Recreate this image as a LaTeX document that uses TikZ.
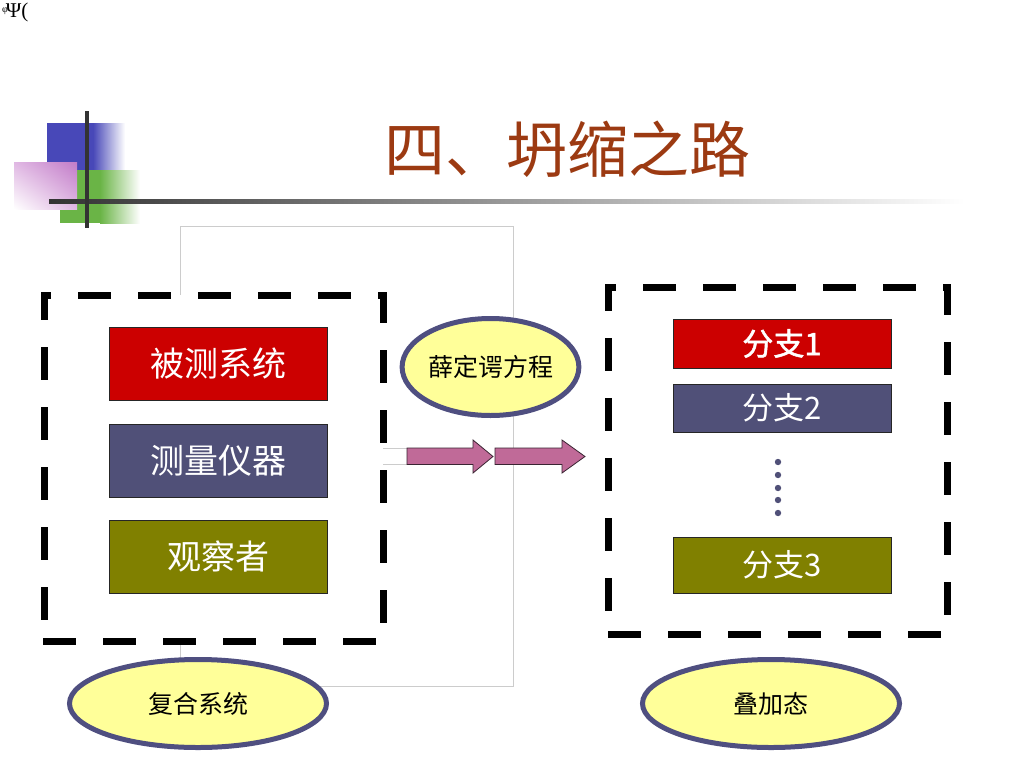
\documentclass[tikz,border=0pt]{standalone}
\usepackage{fontspec}
\newfontfamily\cjk{Noto Sans CJK SC}
\newfontfamily\cjkbold[FakeBold=1.6]{Noto Sans CJK SC}
\newfontfamily\greekserif{Liberation Serif}
\usetikzlibrary{shapes.geometric,shadings}
\definecolor{boxred}{HTML}{CC0000}
\definecolor{boxblue}{HTML}{505078}
\definecolor{boxolive}{HTML}{808000}
\definecolor{ellfill}{HTML}{FFFF99}
\definecolor{ellline}{HTML}{4F4F80}
\definecolor{arrowfill}{HTML}{C06A98}
\definecolor{arrowline}{HTML}{3A2432}
\definecolor{titlecol}{HTML}{9C3A12}
\definecolor{decblue}{HTML}{4848B8}
\definecolor{decgreen}{HTML}{6AB446}
\definecolor{decpink}{HTML}{C27CC8}
\definecolor{pinkmid}{HTML}{E0B8E3}
\definecolor{thingray}{HTML}{CCCCCC}
\begin{document}
\begin{tikzpicture}[x=1pt,y=-1pt,
  colbox/.style={draw=black!85, line width=0.8pt, minimum width=218pt, text=white, inner sep=0pt, font=\cjk\fontsize{34}{34}\selectfont},
  branchbox/.style={draw=black!85, line width=0.8pt, minimum width=218pt, text=white, inner sep=0pt, font=\cjk\fontsize{31}{31}\selectfont},
  ovalnode/.style={ellipse, draw=ellline, line width=5pt, fill=ellfill, inner sep=0pt, text=black, font=\cjk\fontsize{25}{25}\selectfont},
  dashside/.style={line width=7pt, line cap=rect, black},
  blockarrow/.style={fill=arrowfill, draw=arrowline, line width=0.8pt, line join=miter},
  thinline/.style={draw=thingray, line width=0.8pt},
  dotstyle/.style={fill=boxblue}
]
\useasboundingbox (0,0) rectangle (1024,768);
\fill[white] (0,0) rectangle (1024,768);

% top-left glyphs
\node[anchor=north west, inner sep=0pt, font=\greekserif\fontsize{21}{21}\selectfont] (psi) at (2,3) {\raisebox{5pt}{\fontsize{10}{10}\selectfont φ}\kern-2pt Ψ(};

% decoration
\fill[decblue] (47,123) rectangle (93,170);
\shade[left color=decblue, right color=white] (93,123) rectangle (125,170);
\fill[decgreen] (60,170) rectangle (100,223);
\shade[left color=decgreen, right color=white] (100,170) rectangle (140,223);
\shade[upper left=pinkmid, upper right=decpink, lower left=white, lower right=pinkmid] (14,162) rectangle (77,209);
\shade[left color=black!80, right color=white] (49,199) rectangle (965,203.5);
\fill[black!80] (85,111) rectangle (89,228);

% title
\node[text=titlecol, font=\cjk\fontsize{61}{61}\selectfont, inner sep=0pt] (title) at (567,149) {四、坍缩之路};

% thin gray frame
\draw[thinline] (180,226) rectangle (513,686);
\draw[thinline] (383,448) -- (407,448);
\draw[thinline] (383,464) -- (407,464);

% left dashed box
\fill[white] (44,295) rectangle (383,641);
\draw[dashside, dash pattern=on 26pt off 34pt, dash phase=22.5pt] (44,295) -- (383,295);
\draw[dashside, dash pattern=on 26pt off 34pt, dash phase=1.5pt] (383,295) -- (383,641);
\draw[dashside, dash pattern=on 26pt off 34pt, dash phase=4.5pt] (44,295) -- (44,641);
\draw[dashside, dash pattern=on 26pt off 34pt, dash phase=57.5pt] (44,641) -- (383,641);

% right dashed box
\draw[dashside, dash pattern=on 26pt off 34pt, dash phase=21.5pt] (608,287) -- (947,287);
\draw[dashside, dash pattern=on 26pt off 34pt, dash phase=1.5pt] (947,287) -- (947,634);
\draw[dashside, dash pattern=on 26pt off 34pt, dash phase=5.5pt] (608,287) -- (608,634);
\draw[dashside, dash pattern=on 26pt off 34pt, dash phase=56.5pt] (608,634) -- (947,634);

% left boxes
\node[colbox, fill=boxred, minimum height=73pt] (sys) at (218,363.5) {被测系统};
\node[colbox, fill=boxblue, minimum height=73pt] (inst) at (218,460.5) {测量仪器};
\node[colbox, fill=boxolive, minimum height=73pt] (obs) at (218,556.5) {观察者};

% right boxes
\node[branchbox, fill=boxred, minimum height=49pt, font=\cjkbold\fontsize{31}{31}\selectfont] (b1) at (782,343.5) {分支1};
\node[branchbox, fill=boxblue, minimum height=48pt] (b2) at (782,408) {分支2};
\node[branchbox, fill=boxolive, minimum height=56pt] (b3) at (782,565) {分支3};

% dots
\foreach \i/\yy in {1/462,2/475,3/488,4/500,5/513} {
  \fill[dotstyle] (778,\yy) circle (3.2pt);
}

% ellipses
\node[ovalnode, minimum width=150pt, minimum height=97pt] (eq) at (490.5,367) {薛定谔方程};
\node[ovalnode, minimum width=257pt, minimum height=88pt] (comp) at (198,703.5) {复合系统};
\node[ovalnode, minimum width=257pt, minimum height=88pt] (sup) at (771,703.5) {叠加态};

% block arrows
\coordinate (a1s) at (407,456);
\coordinate (a2s) at (495,456);
\draw[blockarrow] (a1s) ++(0,-8) -- ++(66,0) -- ++(0,-8) -- ++(20,16.5) -- ++(-20,16.5) -- ++(0,-8.5) -- ++(-66,0) -- cycle;
\draw[blockarrow] (a2s) ++(0,-8) -- ++(67,0) -- ++(0,-8) -- ++(23,16.5) -- ++(-23,16.5) -- ++(0,-8.5) -- ++(-67,0) -- cycle;
\end{tikzpicture}
\end{document}
